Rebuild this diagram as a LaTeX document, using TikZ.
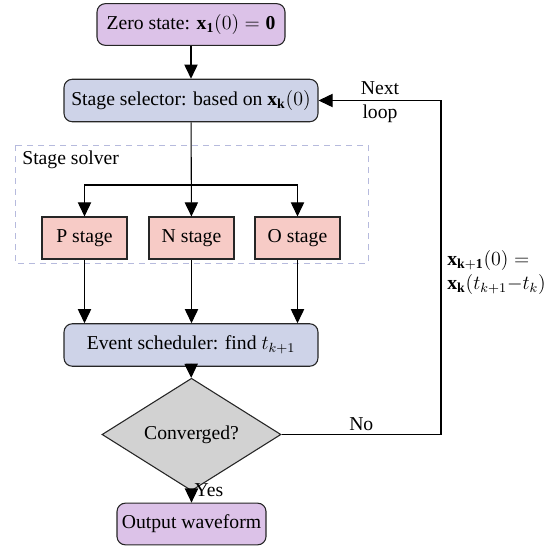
\documentclass[tikz,border=0pt]{standalone}
\usepackage{fontspec}
\setmainfont{Liberation Serif}
\usetikzlibrary{shapes.geometric,arrows.meta}
\definecolor{startcol}{HTML}{DCC2E8}
\definecolor{procol}{HTML}{CED3E8}
\definecolor{stagecol}{HTML}{F7CBC6}
\definecolor{deccol}{HTML}{D2D2D2}
\definecolor{groupcol}{HTML}{B6BADD}
\tikzset{
  every node/.style={font=\fontsize{11.8}{14.5}\selectfont},
  base/.style={draw=black!85, line width=0.65pt, inner sep=0pt, align=center},
  terminal/.style={base, rounded corners=5pt, fill=startcol, minimum height=25pt},
  process/.style={base, rounded corners=5pt, fill=procol, minimum width=152.4pt, minimum height=25.5pt},
  stagebox/.style={base, fill=stagecol, minimum width=51pt, minimum height=25.2pt},
  decision/.style={base, diamond, fill=deccol, minimum width=107.4pt, minimum height=42.6pt},
  arr/.style={line width=0.65pt, -{Triangle[length=8.5pt,width=8pt]}},
  conn/.style={line width=0.65pt},
  group/.style={draw=groupcol, line width=0.6pt, dash pattern=on 3.6pt off 3pt},
}
\begin{document}
\begin{tikzpicture}[x=0.6pt, y=-0.6pt]
\useasboundingbox (0,0) rectangle (559,546);

% grouping frame of the stage solver
\draw[group] (15,145) rectangle (368,263);
\node[anchor=west, inner sep=0pt] (grp) at (22,160) {Stage solver};

% nodes
\node[terminal, minimum width=112.8pt] (zero) at (191,24.5) {Zero state: $\mathbf{x_1}(0)=\mathbf{0}$};
\node[process] (sel) at (191,100.5) {Stage selector: based on $\mathbf{x_k}(0)$};
\node[stagebox] (P) at (84.5,238) {P stage};
\node[stagebox] (N) at (191.5,238) {N stage};
\node[stagebox] (O) at (297.5,238) {O stage};
\node[process] (ev) at (191,345) {Event scheduler: find $t_{k+1}$};
\node[decision] (conv) at (191.5,434.5) {Converged?};
\node[terminal, minimum width=89.4pt] (out) at (191.5,524) {Output waveform};

% connectors
\coordinate (br) at (191,185);
\coordinate (rt) at (441,434.5);
\coordinate (rb) at (441,100.5);
\draw[arr] (zero) -- (sel);
\draw[arr] (sel) -- (N);
\draw[arr] (br) -| (P);
\draw[arr] (br) -| (O);
\draw[arr] (P) -- (P |- ev.north);
\draw[arr] (N) -- (N |- ev.north);
\draw[arr] (O) -- (O |- ev.north);
\draw[arr] (ev) -- (conv);
\draw[arr] (conv) -- node[anchor=west, inner sep=1.5pt, yshift=4pt] (yes) {Yes} (out);
\draw[conn] (conv.east) -- node[above, inner sep=2pt, pos=0.5] (no) {No} (rt);
\draw[arr] (rt) -- (rb) -- (sel.east);

% labels on the feedback path
\node[align=center] (next) at (380,102) {Next\\[0pt]loop};
\node[align=left, anchor=west, inner sep=0pt] (upd) at (447,272.5)
  {$\mathbf{x_{k+1}}(0)=$\\$\mathbf{x_k}(t_{k+1}{-}t_k)$};
\end{tikzpicture}
\end{document}
